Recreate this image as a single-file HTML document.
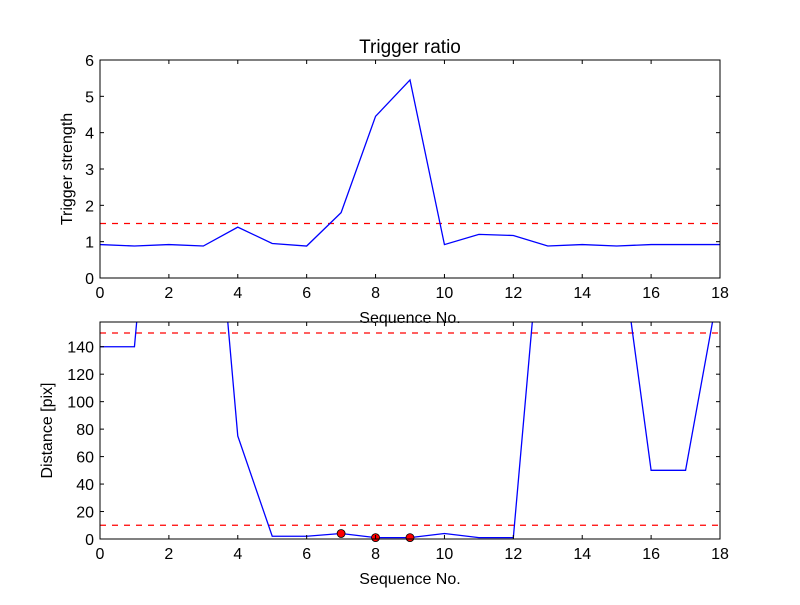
<!DOCTYPE html>
<html><head><meta charset="utf-8"><style>
body{margin:0;background:#fff;}
svg text{font-family:"Liberation Sans","DejaVu Sans",sans-serif;fill:#000;}
</style></head><body>
<svg id="chart" width="800" height="600" xmlns="http://www.w3.org/2000/svg">
<rect width="800" height="600" fill="#fff"/>
</svg>
<script>
const seqX = [0,1,2,3,4,5,6,7,8,9,10,11,12,13,14,15,16,17,18];
const triggerVals = [0.92,0.88,0.92,0.88,1.4,0.95,0.88,1.8,4.45,5.45,0.92,1.2,1.17,0.88,0.92,0.88,0.92,0.92,0.92];
const triggerThreshold = [1.5];
const distVals = [140,140,417,361,75,2,2,4,1,1,4,1,1,286,400,236,50,50,188];
const markedIdx = [7,8,9];
const distThresholds = [150,10];
const xTicks = [0,2,4,6,8,10,12,14,16,18];
const topYTicks = [0,1,2,3,4,5,6];
const botYTicks = [0,20,40,60,80,100,120,140];

const svg = document.getElementById('chart');
const NS = 'http://www.w3.org/2000/svg';
function mk(tag, attrs, parent){const e=document.createElementNS(NS,tag);for(const k in attrs)e.setAttribute(k,attrs[k]);(parent||svg).appendChild(e);return e;}

function panel(cfg){
  const {x0,x1,y0,y1,ymin,ymax,name}=cfg;
  const sx=v=>x0+(v-0)/(18-0)*(x1-x0);
  const sy=v=>y1-(v-ymin)/(ymax-ymin)*(y1-y0);
  const g=mk('g',{});
  
  
  const cid='clip-'+name;
  const cp=mk('clipPath',{id:cid},g);
  mk('rect',{x:x0,y:y0,width:x1-x0,height:y1-y0},cp);
  const plot=mk('g',{'clip-path':'url(#'+cid+')'},g);
  cfg.thresholds.forEach(t=>{
    const l=mk('line',{x1:x0,x2:x1,y1:sy(t),y2:sy(t),stroke:'#ff0000','stroke-width':1.2,'stroke-dasharray':'6,6'},plot);
    
    
  });
  const pts=seqX.map((xv,i)=>sx(xv)+','+sy(cfg.vals[i])).join(' ');
  const pl=mk('polyline',{points:pts,fill:'none',stroke:'#0000ff','stroke-width':1.3},plot);
  
  
  if(cfg.marks){cfg.marks.forEach(i=>{
    const c=mk('circle',{cx:sx(seqX[i]),cy:sy(cfg.vals[i]),r:4,fill:'#ff0000',stroke:'#000','stroke-width':0.8},g);
    
    
  });}
  const fr=mk('rect',{x:x0,y:y0,width:x1-x0,height:y1-y0,fill:'none',stroke:'#000','stroke-width':1},g);
  
  
  xTicks.forEach(t=>{
    const X=sx(t);
    mk('line',{x1:X,x2:X,y1:y1,y2:y1-4,stroke:'#000'},g);
    mk('line',{x1:X,x2:X,y1:y0,y2:y0+4,stroke:'#000'},g);
    const tx=mk('text',{x:X,y:y1+20,'text-anchor':'middle','font-size':16},g);
    tx.textContent=t;
    
    
  });
  cfg.yticks.forEach(t=>{
    const Y=sy(t);
    mk('line',{x1:x0,x2:x0+4,y1:Y,y2:Y,stroke:'#000'},g);
    mk('line',{x1:x1,x2:x1-4,y1:Y,y2:Y,stroke:'#000'},g);
    const tx=mk('text',{x:x0-6,y:Y+6,'text-anchor':'end','font-size':16},g);
    tx.textContent=t;
    
    
  });
  const xl=mk('text',{x:(x0+x1)/2,y:y1+45,'text-anchor':'middle','font-size':16},g);
  xl.textContent='Sequence No.';
  
  
  const yl=mk('text',{x:cfg.ylx,y:(y0+y1)/2,'text-anchor':'middle','font-size':16,transform:'rotate(-90 '+cfg.ylx+' '+(y0+y1)/2+')'},g);
  yl.textContent=cfg.ylabel;
  
  
}
panel({name:'trigger',x0:100,x1:720,y0:60,y1:278,ymin:0,ymax:6,vals:triggerVals,thresholds:triggerThreshold,yticks:topYTicks,ylabel:'Trigger strength',ylx:72});
panel({name:'distance',x0:100,x1:720,y0:322,y1:539,ymin:0,ymax:158,vals:distVals,thresholds:distThresholds,yticks:botYTicks,ylabel:'Distance [pix]',ylx:52,marks:markedIdx});
const title=mk('text',{x:410,y:53,'text-anchor':'middle','font-size':19});
title.textContent='Trigger ratio';


</script>
</body></html>
